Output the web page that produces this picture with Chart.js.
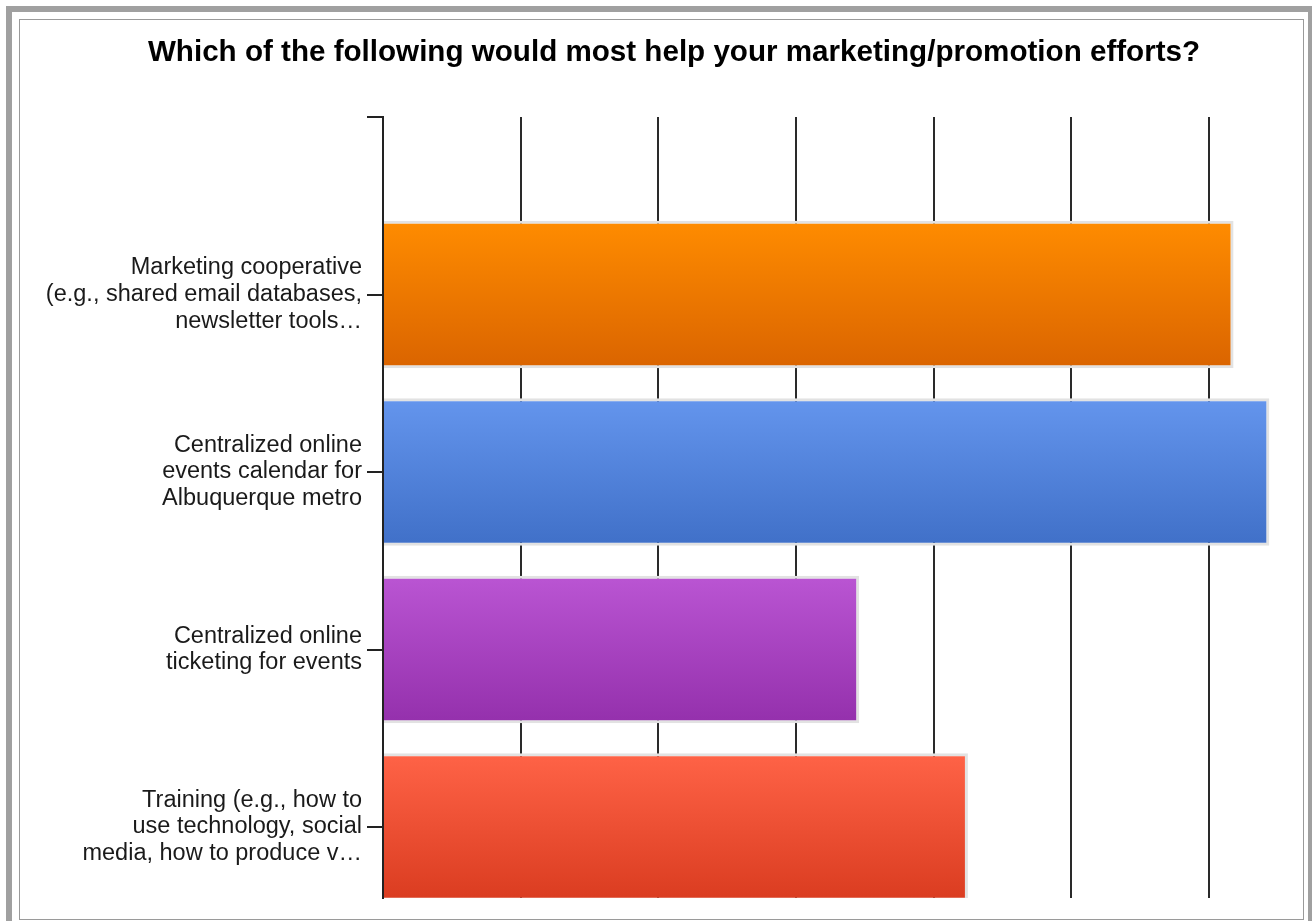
<!DOCTYPE html>
<html>
<head>
<meta charset="utf-8">
<script src="https://cdn.jsdelivr.net/npm/chart.js@4"></script>
<style>
  body { margin: 0; background: #fff; width: 1312px; height: 921px; overflow: hidden; position: relative; }
  #outer { position: absolute; left: 6px; top: 6px; width: 1296px; height: 910px; border: 6px solid #a0a0a0; }
  #inner { position: absolute; left: 19px; top: 19px; width: 1283px; height: 899px; border: 1px solid #9a9a9a; }
  #wrap { position: absolute; left: 0; top: 0; width: 1312px; height: 921px; }
</style>
</head>
<body>
<div id="outer"></div>
<div id="inner"></div>
<div id="wrap"><canvas id="chart" width="1312" height="921"></canvas></div>
<script>
const title = 'Which of the following would most help your marketing/promotion efforts?';

const categories = [
  ['Marketing cooperative', '(e.g., shared email databases,', 'newsletter tools…'],
  ['Centralized online', 'events calendar for', 'Albuquerque metro'],
  ['Centralized online', 'ticketing for events'],
  ['Training (e.g., how to', 'use technology, social', 'media, how to produce v…']
];
const values = [61.8, 64.4, 34.6, 42.5];
const gridTicks = [0, 10, 20, 30, 40, 50, 60];
const rowTicks = [-1, 0, 1, 2, 3];

const topColors = ['#ff8c00', '#6495ed', '#ba55d3', '#ff6347'];
const bottomColors = ['#da6400', '#4070c8', '#9430ac', '#da3c20'];

const barPct = 0.83;

function barGradient(ctx) {
  const chart = ctx.chart;
  const y = chart.scales.y;
  const i = ctx.dataIndex;
  if (!chart.chartArea || !y) return topColors[i];
  const center = y.getPixelForValue(i);
  const half = Math.abs(y.getPixelForValue(1) - y.getPixelForValue(0)) * barPct / 2;
  const g = chart.ctx.createLinearGradient(0, center - half, 0, center + half);
  g.addColorStop(0, topColors[i]);
  g.addColorStop(1, bottomColors[i]);
  return g;
}

const font = { family: "'Liberation Sans', Arial, sans-serif" };

new Chart(document.getElementById('chart'), {
  type: 'bar',
  data: {
    datasets: [{
      data: values.map((v, i) => ({ x: v, y: i })),
      backgroundColor: barGradient,
      borderColor: '#e2e2e2',
      borderWidth: 3,
      borderSkipped: 'start',
      categoryPercentage: 1,
      barPercentage: barPct
    }]
  },
  options: {
    indexAxis: 'y',
    responsive: false,
    animation: false,
    // right padding is negative so the title centres where the original did
    layout: { padding: { top: 0, left: 20, right: -16, bottom: 23 } },
    plugins: {
      legend: { display: false },
      tooltip: { enabled: false },
      title: {
        display: true,
        text: title,
        color: '#000',
        font: { ...font, size: 29.6, weight: 'bold' },
        padding: { top: 35, bottom: 46.5 }
      }
    },
    scales: {
      x: {
        type: 'linear',
        min: 0,
        max: 67.5,
        afterBuildTicks: s => { s.ticks = gridTicks.map(v => ({ value: v })); },
        afterFit: s => { s.height = 0; },
        ticks: { display: false },
        border: { display: false },
        grid: { color: '#2a2a2a', lineWidth: 2, drawTicks: false }
      },
      y: {
        type: 'linear',
        min: -1,
        max: 3.4,
        reverse: true,
        offset: false,
        afterBuildTicks: s => { s.ticks = rowTicks.map(v => ({ value: v })); },
        afterFit: s => { s.width = 383 - 20; s.paddingTop = 0; s.paddingBottom = 0; },
        ticks: {
          color: '#1a1a1a',
          padding: 5,
          font: { ...font, size: 23.5, lineHeight: 1.13 },
          callback: v => categories[v] || ''
        },
        border: { display: true, color: '#222', width: 2 },
        grid: { offset: false, drawOnChartArea: false, drawTicks: true, tickLength: 16, color: '#222', lineWidth: 2 }
      }
    }
  }
});
</script>
</body>
</html>
